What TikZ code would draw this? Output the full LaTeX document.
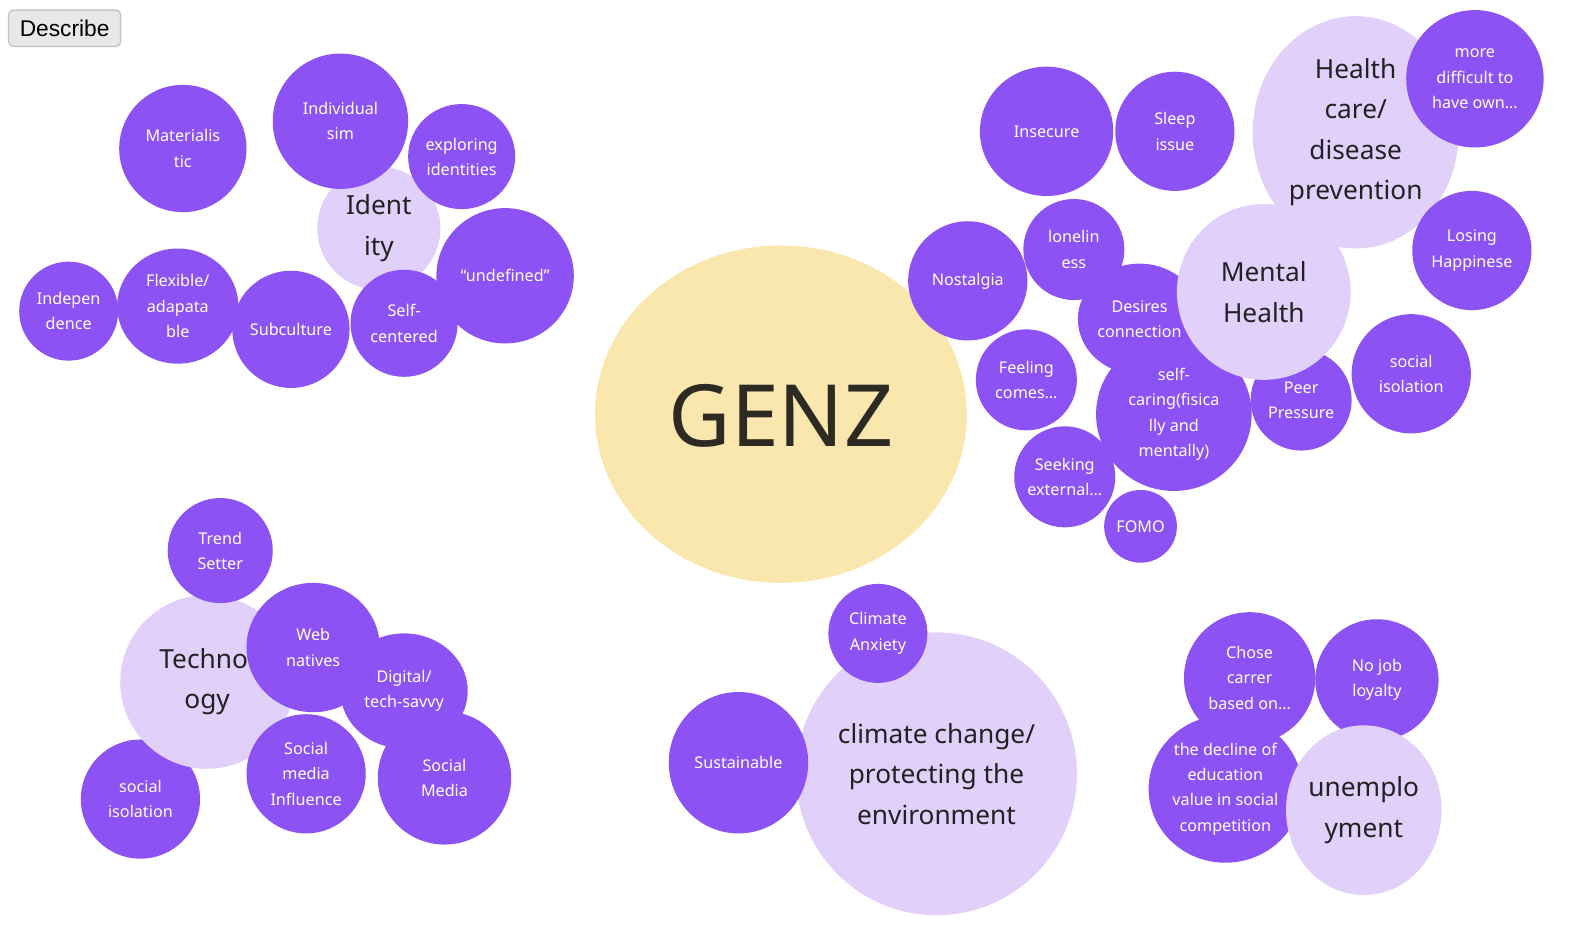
\documentclass[tikz,border=0pt]{standalone}
\usepackage{fontspec}
\setmainfont{Noto Sans}
\newfontfamily\btnfont{Liberation Sans}
\usetikzlibrary{shapes.geometric}
\definecolor{purp}{HTML}{8D52F3}
\definecolor{lav}{HTML}{E0D0FA}
\definecolor{genzy}{HTML}{FAE7AD}
\definecolor{darktxt}{HTML}{222222}
\definecolor{genztxt}{HTML}{2C2A22}
\definecolor{btnfill}{HTML}{E8E8E8}
\definecolor{btnline}{HTML}{C6C6C6}
\tikzset{
  blob/.style={ellipse, inner sep=0pt, outer sep=0pt},
  pur/.style={blob, fill=purp},
  lit/.style={blob, fill=lav},
  yel/.style={blob, fill=genzy},
  smalltxt/.style={text=white, align=center, inner sep=0pt, font=\fontsize{16}{25}\selectfont},
  bigtxt/.style={text=darktxt, align=center, inner sep=0pt, font=\fontsize{26}{40}\selectfont},
}
% #1 shape style, #2 text style, #3 name, #4 x, #5 y, #6 rx, #7 ry, #8 text
\newcommand\mybub[8]{%
  \node[#1, minimum width={2*#6}, minimum height={2*#7}] (#3) at (#4,#5) {};
  \node[#2] (#3-t) at (#3.center) {#8};}
\begin{document}
\begin{tikzpicture}[x=1pt,y=-1pt]
\useasboundingbox (0,0) rectangle (1568,929);
\fill[white] (0,0) rectangle (1568,929);

% button
\node[draw=btnline, fill=btnfill, line width=1.5pt, rounded corners=5pt,
      minimum width=111, minimum height=36, inner sep=0pt,
      font=\btnfont\fontsize{22.5}{26}\selectfont, text=black] (describe) at (64,28) {Describe};

% GENZ
\node[yel, minimum width=368, minimum height=334] (genz) at (773,410) {};
\node[text=genztxt, inner sep=0pt, font=\fontsize{85}{100}\selectfont] (genz-t) at (773,412) {GENZ};

% Identity cluster
\mybub{lit}{bigtxt}{identity}{375}{226}{61}{61}{Ident\\ity}
\mybub{pur}{smalltxt}{materialistic}{181}{147}{63}{63}{Materialis\\tic}
\mybub{pur}{smalltxt}{individualsim}{337}{120}{67}{67}{Individual\\sim}
\mybub{pur}{smalltxt}{exploring}{457}{155}{53}{52}{exploring\\identities}
\mybub{pur}{smalltxt}{undefined}{500}{273}{68}{67}{“undefined”}
\mybub{pur}{smalltxt}{selfcentered}{400}{320}{53}{53}{Self-\\centered}
\mybub{pur}{smalltxt}{subculture}{288}{326}{58}{58}{Subculture}
\mybub{pur}{smalltxt}{flexible}{176}{303}{60}{57}{Flexible/\\adapata\\ble}
\mybub{pur}{smalltxt}{independence}{68}{308}{49}{49}{Indepen\\dence}

% Health / mental health cluster
\mybub{lit}{bigtxt}{healthcare}{1342}{131}{102}{115}{Health\\care/\\disease\\prevention}
\mybub{pur}{smalltxt}{moredifficult}{1460}{78}{68}{68}{more\\difficult to\\have own…}
\mybub{pur}{smalltxt}{losing}{1457}{248}{59}{59}{Losing\\Happinese}
\mybub{pur}{smalltxt}{insecure}{1036}{130}{66}{64}{Insecure}
\mybub{pur}{smalltxt}{sleep}{1163}{130}{59}{59}{Sleep\\issue}
\mybub{pur}{smalltxt}{nostalgia}{958}{278}{59}{59}{Nostalgia}
\mybub{pur}{smalltxt}{loneliness}{1063}{247}{50}{50}{lonelin\\ess}
\mybub{pur}{smalltxt}{desires}{1128}{316}{61}{55}{Desires\\connection}
\mybub{pur}{smalltxt}{feeling}{1016}{376}{50}{50}{Feeling\\comes…}
\mybub{pur}{smalltxt}{selfcaring}{1162}{410}{77}{76}{self-\\caring(fisica\\lly and\\mentally)}
\mybub{pur}{smalltxt}{peer}{1288}{396}{50}{50}{Peer\\Pressure}
\mybub{pur}{smalltxt}{socialisoR}{1397}{370}{59}{59}{social\\isolation}
\mybub{pur}{smalltxt}{seeking}{1054}{472}{50}{50}{Seeking\\external…}
\mybub{pur}{smalltxt}{fomo}{1129}{521}{36}{36}{FOMO}
\mybub{lit}{bigtxt}{mental}{1251}{289}{86}{87}{Mental\\Health}

% Technology cluster
\mybub{pur}{smalltxt}{socialisoL}{139}{791}{59}{59}{social\\isolation}
\node[lit, minimum width=172, minimum height=172] (technology) at (205,675) {};
\node[bigtxt] (technology-t) at (technology.center) {Technol\\ogy};
\mybub{pur}{smalltxt}{trend}{218}{545}{52}{52}{Trend\\Setter}
\mybub{pur}{smalltxt}{web}{310}{641}{66}{64}{Web\\natives}
\mybub{pur}{smalltxt}{digital}{400}{684}{63}{57}{Digital/\\tech-savvy}
\mybub{pur}{smalltxt}{smi}{303}{766}{59}{59}{Social\\media\\Influence}
\mybub{pur}{smalltxt}{socialmedia}{440}{770}{66}{66}{Social\\Media}

% Climate cluster
\mybub{lit}{bigtxt}{climate}{927}{766}{139}{140}{climate change/\\protecting the\\environment}
\mybub{pur}{smalltxt}{anxiety}{869}{627}{49}{49}{Climate\\Anxiety}
\mybub{pur}{smalltxt}{sustainable}{731}{755}{69}{70}{Sustainable}

% Unemployment cluster
\mybub{pur}{smalltxt}{chose}{1237}{671}{65}{65}{Chose\\carrer\\based on…}
\mybub{pur}{smalltxt}{nojob}{1363}{673}{61}{60}{No job\\loyalty}
\mybub{pur}{smalltxt}{decline}{1213}{781}{76}{73}{the decline of\\education\\value in social\\competition}
\mybub{lit}{bigtxt}{unemployment}{1350}{802}{77}{84}{unemplo\\yment}
\end{tikzpicture}
\end{document}
